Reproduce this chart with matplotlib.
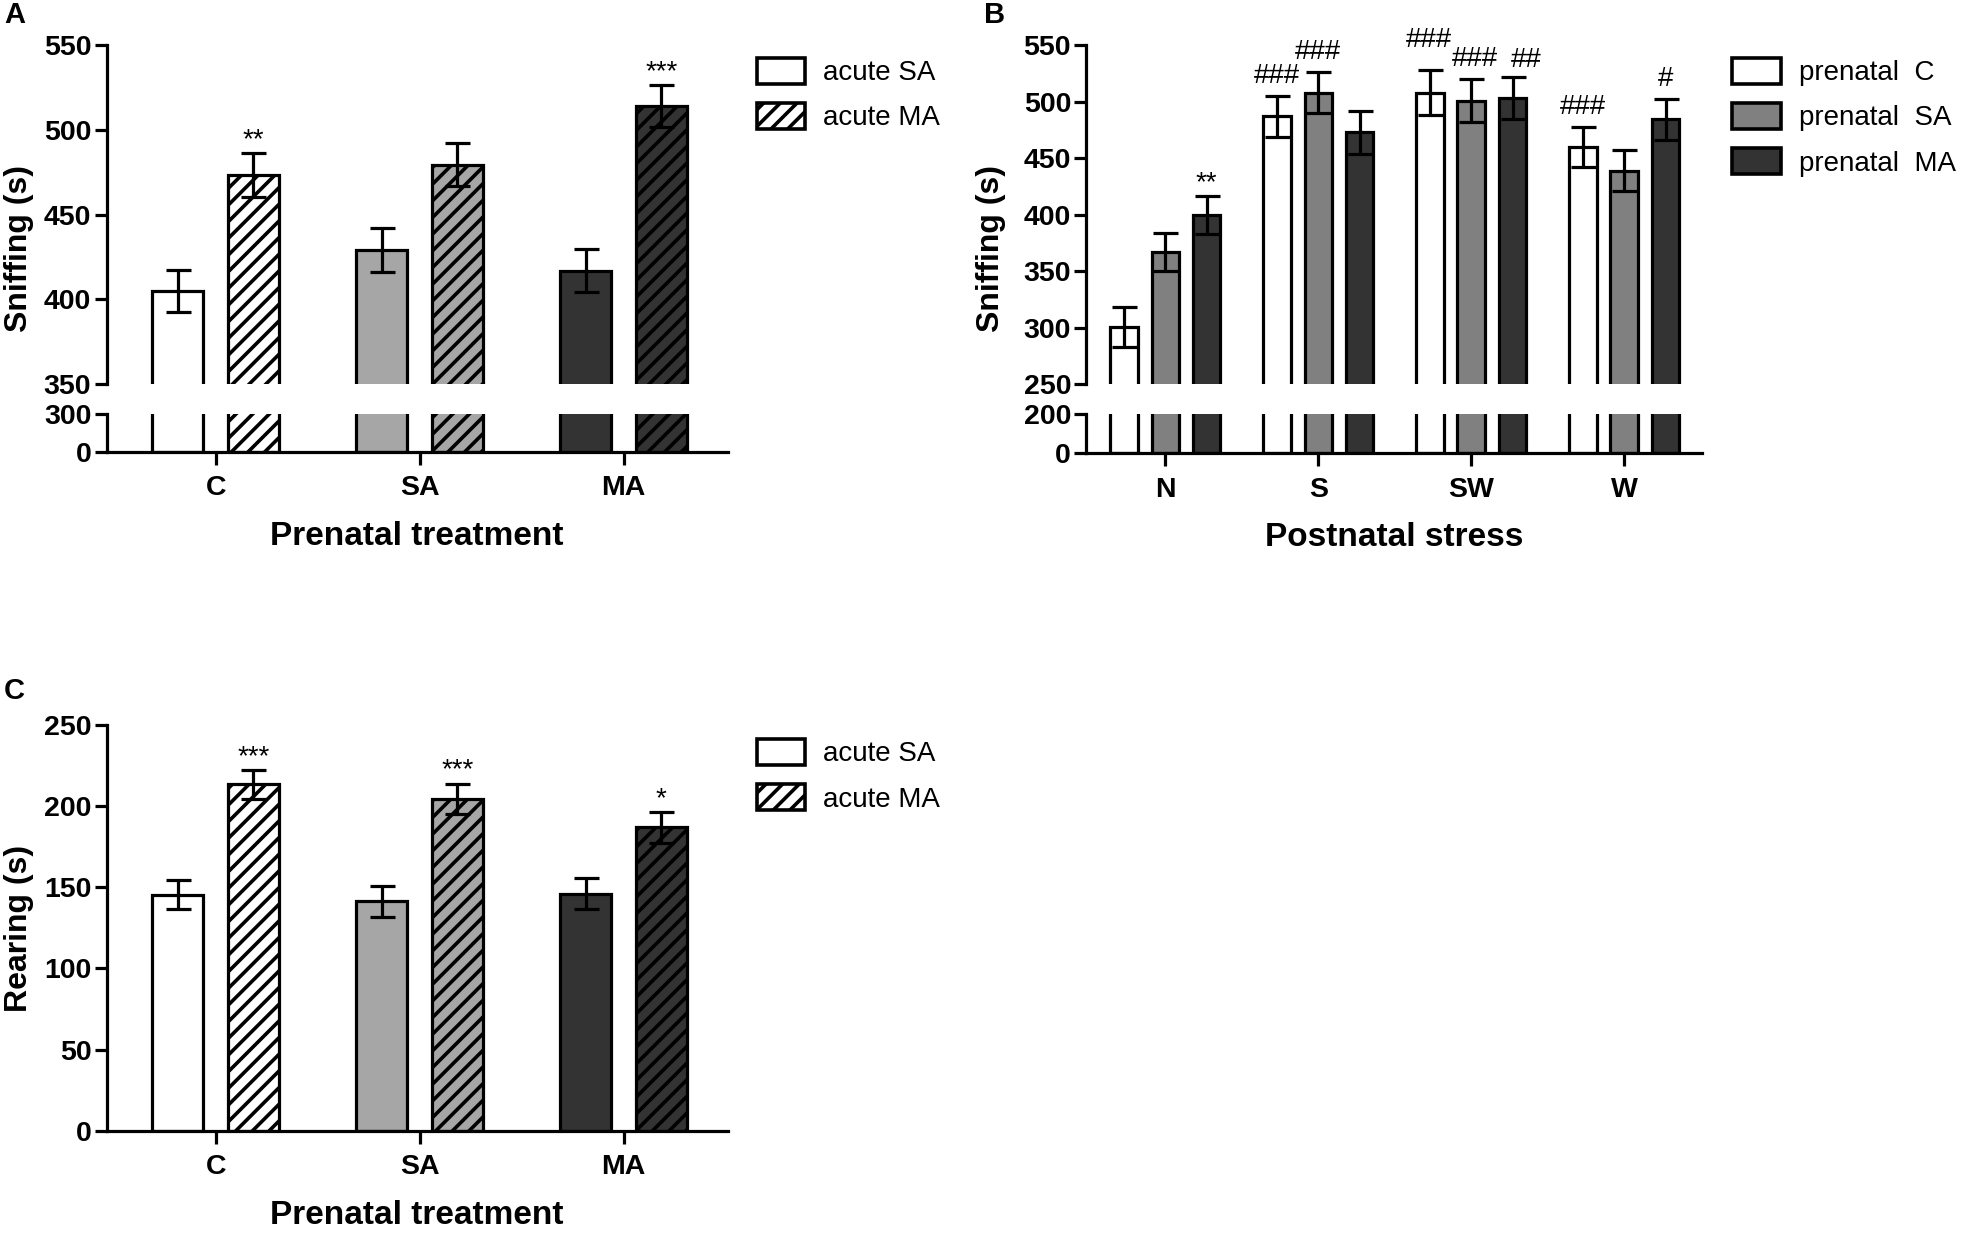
import matplotlib
matplotlib.use("Agg")
import matplotlib.pyplot as plt
from matplotlib.patches import Patch

# ---- data ----
groups_a = ['C', 'SA', 'MA']
sniff_a_sa = [405, 429, 417]
sniff_a_sa_err = [12.5, 13, 12.5]
sniff_a_ma = [473.5, 479.5, 514]
sniff_a_ma_err = [13, 12.5, 12.5]
stars_a_ma = ['**', '', '***']

groups_b = ['N', 'S', 'SW', 'W']
sniff_b_c = [300.5, 487, 508, 460]
sniff_b_c_err = [17.5, 18, 20, 18]
sniff_b_sa = [367, 508, 501, 439]
sniff_b_sa_err = [17, 18, 19, 18]
sniff_b_ma = [399.5, 473, 503.5, 484.5]
sniff_b_ma_err = [17, 19, 18.5, 18]
marks_b_c = ['', '###', '###', '###']
marks_b_sa = ['', '###', '###', '']
marks_b_ma = ['**', '', '##', '#']

groups_c = ['C', 'SA', 'MA']
rear_c_sa = [145.5, 141.5, 146]
rear_c_sa_err = [9, 9.5, 9.5]
rear_c_ma = [213.5, 204.5, 187]
rear_c_ma_err = [9, 9.5, 9.5]
stars_c_ma = ['***', '***', '*']

# ---- styling ----
FONT = ['Liberation Sans', 'DejaVu Sans']
LW = 2.3
plt.rcParams['hatch.linewidth'] = 2.6
plt.rcParams['font.family'] = FONT

WHITE = '#ffffff'
LGRAY = '#a6a6a6'
MGRAY = '#808080'
DARK = '#333333'

fig = plt.figure(figsize=(19.67, 12.36), dpi=100)


def style_axis(ax, bottom=True):
    for s in ['top', 'right']:
        ax.spines[s].set_visible(False)
    ax.spines['left'].set_linewidth(LW)
    ax.spines['bottom'].set_linewidth(LW)
    if not bottom:
        ax.spines['bottom'].set_visible(False)
        ax.tick_params(axis='x', bottom=False, labelbottom=False)
    ax.tick_params(axis='both', width=LW, length=9, direction='out',
                   labelsize=20.5)
    ax.tick_params(axis='y', pad=2)
    ax.tick_params(axis='x', pad=8)
    for lab in ax.get_xticklabels() + ax.get_yticklabels():
        lab.set_fontweight('bold')


def draw_bars(ax, x, vals, errs, width, color, hatch=None):
    ax.bar(x, vals, width, color=color, edgecolor='black', linewidth=LW,
           hatch=hatch, zorder=2)
    ax.errorbar(x, vals, yerr=errs, fmt='none', ecolor='black',
                elinewidth=LW, capsize=9, capthick=LW, zorder=3)


def mark(ax, x, top, txt, dx=0, dy=4, size=20):
    if txt:
        ax.annotate(txt, (x, top), xytext=(dx, dy), textcoords='offset points',
                    ha='center', va='bottom', fontsize=size, clip_on=False)


# ---------------- Panel A ----------------
xa = list(range(len(groups_a)))
wa, offa = 0.25, 0.185
axA = fig.add_axes([0.0542, 0.6893, 0.3157, 0.2741])
axA2 = fig.add_axes([0.0542, 0.6345, 0.3157, 0.0305], sharex=axA)
for ax in (axA, axA2):
    draw_bars(ax, [i - offa for i in xa], sniff_a_sa, sniff_a_sa_err, wa,
              [WHITE, LGRAY, DARK])
    draw_bars(ax, [i + offa for i in xa], sniff_a_ma, sniff_a_ma_err, wa,
              [WHITE, LGRAY, DARK], hatch='//')
axA.set_ylim(350, 550)
axA.set_yticks([350, 400, 450, 500, 550])
axA2.set_ylim(0, 300)
axA2.set_yticks([0, 300])
axA.set_xlim(-0.535, 2.51)
axA2.set_xticks(xa)
axA2.set_xticklabels(groups_a)
style_axis(axA, bottom=False)
style_axis(axA2)
for i in xa:
    mark(axA, i + offa, sniff_a_ma[i] + sniff_a_ma_err[i], stars_a_ma[i], dy=0)
axA2.set_xlabel('Prenatal treatment', fontsize=24, fontweight='bold',
                labelpad=14)
fig.text(0.0096, 0.799, 'Sniffing (s)', rotation=90, ha='center',
         va='center', fontsize=23, fontweight='bold')

# ---------------- Panel B ----------------
xb = list(range(len(groups_b)))
wb, offb = 0.18, 0.27
axB = fig.add_axes([0.5523, 0.6893, 0.3131, 0.2741])
axB2 = fig.add_axes([0.5523, 0.6335, 0.3131, 0.0315], sharex=axB)
for ax in (axB, axB2):
    draw_bars(ax, [i - offb for i in xb], sniff_b_c, sniff_b_c_err, wb, WHITE)
    draw_bars(ax, xb, sniff_b_sa, sniff_b_sa_err, wb, MGRAY)
    draw_bars(ax, [i + offb for i in xb], sniff_b_ma, sniff_b_ma_err, wb, DARK)
axB.set_ylim(250, 550)
axB.set_yticks([250, 300, 350, 400, 450, 500, 550])
axB2.set_ylim(0, 200)
axB2.set_yticks([0, 200])
axB.set_xlim(-0.516, 3.51)
axB2.set_xticks(xb)
axB2.set_xticklabels(groups_b)
style_axis(axB, bottom=False)
style_axis(axB2)
# label nudges (points) so the marks do not collide
nudge_c = [(0, 5), (0, 5), (-1, 12), (0, 5)]
nudge_sa = [(0, 5), (0, 5), (3, 5), (0, 5)]
nudge_ma = [(0, 0), (0, 5), (10, 3), (0, 5)]
for i in xb:
    mark(axB, i - offb, sniff_b_c[i] + sniff_b_c_err[i], marks_b_c[i],
         *nudge_c[i])
    mark(axB, i, sniff_b_sa[i] + sniff_b_sa_err[i], marks_b_sa[i],
         *nudge_sa[i])
    mark(axB, i + offb, sniff_b_ma[i] + sniff_b_ma_err[i], marks_b_ma[i],
         *nudge_ma[i])
axB2.set_xlabel('Postnatal stress', fontsize=24, fontweight='bold',
                labelpad=14)
fig.text(0.5038, 0.799, 'Sniffing (s)', rotation=90, ha='center',
         va='center', fontsize=23, fontweight='bold')

# ---------------- Panel C ----------------
xc = list(range(len(groups_c)))
axC = fig.add_axes([0.0542, 0.0853, 0.3157, 0.3279])
draw_bars(axC, [i - offa for i in xc], rear_c_sa, rear_c_sa_err, wa,
          [WHITE, LGRAY, DARK])
draw_bars(axC, [i + offa for i in xc], rear_c_ma, rear_c_ma_err, wa,
          [WHITE, LGRAY, DARK], hatch='//')
axC.set_ylim(0, 250)
axC.set_yticks([0, 50, 100, 150, 200, 250])
axC.set_xlim(-0.535, 2.51)
axC.set_xticks(xc)
axC.set_xticklabels(groups_c)
style_axis(axC)
for i in xc:
    mark(axC, i + offa, rear_c_ma[i] + rear_c_ma_err[i], stars_c_ma[i], dy=0)
axC.set_xlabel('Prenatal treatment', fontsize=24, fontweight='bold',
               labelpad=14)
fig.text(0.0096, 0.249, 'Rearing (s)', rotation=90, ha='center',
         va='center', fontsize=23, fontweight='bold')

# ---------------- legends ----------------
leg_kw = dict(loc='upper left', frameon=False, fontsize=20, handlelength=1.75,
              handleheight=1.05, handletextpad=0.65, labelspacing=0.6,
              borderpad=0, borderaxespad=0)
acute = [Patch(facecolor=WHITE, edgecolor='black', linewidth=2.6),
         Patch(facecolor=WHITE, edgecolor='black', linewidth=2.6, hatch='//')]
fig.legend(acute, ['acute SA', 'acute MA'], bbox_to_anchor=(0.3846, 0.953),
           **leg_kw)
fig.legend(acute, ['acute SA', 'acute MA'], bbox_to_anchor=(0.3846, 0.402),
           **leg_kw)
prenatal = [Patch(facecolor=c, edgecolor='black', linewidth=2.6)
            for c in (WHITE, MGRAY, DARK)]
fig.legend(prenatal, ['prenatal  C', 'prenatal  SA', 'prenatal  MA'],
           bbox_to_anchor=(0.8807, 0.953), **leg_kw)

# panel letters
for x, y, t in [(0.002, 0.999, 'A'), (0.5, 0.999, 'B'), (0.002, 0.452, 'C')]:
    fig.text(x, y, t, ha='left', va='top', fontsize=21, fontweight='bold')

fig.savefig('out.png', dpi=100)
